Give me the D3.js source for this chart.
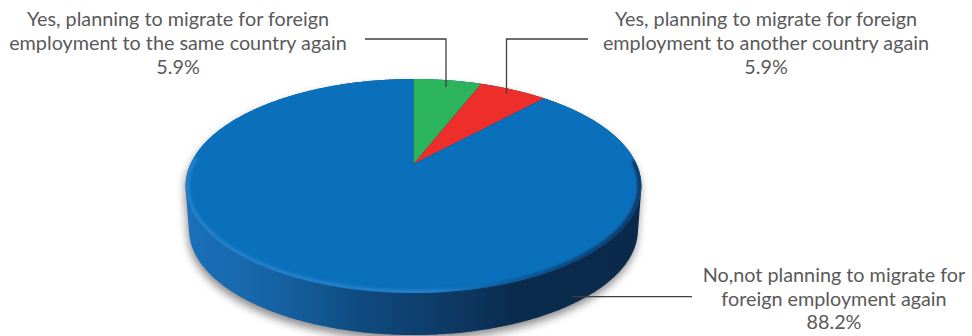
<!DOCTYPE html>
<html>
<head>
<meta charset="utf-8">
<script src="https://cdn.jsdelivr.net/npm/d3@7"></script>
<style>
  html, body { margin: 0; padding: 0; background: #fff; overflow: hidden; }
  svg { display: block; }
  text { font-family: Lato, "Open Sans", sans-serif; font-size: 19.8px; fill: #595959; text-anchor: middle; }
</style>
</head>
<body>
<svg id="chart" width="972" height="336"></svg>
<script>
// Survey shares, clockwise from twelve o'clock
const categories = ["same", "another", "no"];
const shares = [5.9, 5.9, 88.2];
const sliceColors = ["#2bb45c", "#ee2e2a", "#0b70bc"];

const labelLines = [
  ["Yes, planning to migrate for foreign", "employment to the same country again", "5.9%"],
  ["Yes, planning to migrate for foreign", "employment to another country again", "5.9%"],
  ["No,not planning to migrate for", "foreign employment again", "88.2%"]
];
const labelCentres = [[178, 26], [766, 26], [834, 282]];
const labelLeading = [24, 24, 23.6];

// Leader lines run from the label to a point on the slice
const leaderPaths = [
  [[365, 39], [446, 39], [446, 87]],
  [[588, 39], [506.5, 39], [506.5, 93.5]],
  [[692, 296.7], [572, 296.7]]
];

// Side wall shading, left to right
const wallStops = [
  [0, "#1b70ba"], [0.14, "#1868ab"], [0.27, "#135a97"], [0.38, "#0f4b80"],
  [0.5, "#0e406f"], [0.62, "#0d3660"], [0.72, "#0b2b4d"], [1, "#0b2a4b"]
];
// Bevel shading, bright on the near left and dark towards the right
const rimStops = [
  [0, "#2a84cc"], [0.55, "#2a84cc"], [0.68, "#0d5a9c"], [0.85, "#0a3a66"], [1, "#0a2b4c"]
];

// Perspective disc: the centre sits above the middle of the outline
const disc = { cx: 413.5, cy: 164, a: 223, b: 102.5, k: 0.2056 };
const wallDrop = 44, wallScale = 0.985;

function project(angle, drop = 0, scale = 1) {
  const x = Math.sin(angle), y = -Math.cos(angle), w = 1 - disc.k * y;
  return [
    disc.cx + scale * disc.a * x / w,
    disc.cy + drop + scale * disc.b * y / w
  ];
}
function arcPoints(a0, a1, drop, scale) {
  const n = Math.max(2, Math.ceil(Math.abs(a1 - a0) / 0.01));
  return d3.range(n + 1).map(i => project(a0 + (a1 - a0) * i / n, drop, scale));
}

const svg = d3.select("#chart");
const defs = svg.append("defs");
const line = d3.line();

const blur = (id, sd) => defs.append("filter").attr("id", id)
  .attr("filterUnits", "userSpaceOnUse")
  .attr("x", 0).attr("y", 0).attr("width", 972).attr("height", 400)
  .append("feGaussianBlur").attr("stdDeviation", sd);
blur("soft", 4.5);
blur("rimSoft", 1.5);

const topOutline = arcPoints(0, 2 * Math.PI);
const baseOutline = arcPoints(0, 2 * Math.PI, wallDrop, wallScale);
const hull = d3.polygonHull(topOutline.concat(baseOutline));
const hullPath = line(hull) + "Z";

const xExtent = d3.extent(topOutline, d => d[0]);
const horizontalGradient = (id, stops) => {
  const g = defs.append("linearGradient").attr("id", id)
    .attr("gradientUnits", "userSpaceOnUse")
    .attr("x1", xExtent[0]).attr("x2", xExtent[1]).attr("y1", 0).attr("y2", 0);
  stops.forEach(s => g.append("stop").attr("offset", s[0]).attr("stop-color", s[1]));
};
horizontalGradient("wall", wallStops);
horizontalGradient("rim", rimStops);

defs.append("clipPath").attr("id", "topClip")
  .append("path").attr("d", line(topOutline) + "Z");

// Ground shadow
svg.append("path").attr("d", hullPath)
  .attr("transform", "translate(-1,5)")
  .attr("fill", "#707070").attr("opacity", 0.8).attr("filter", "url(#soft)");

// Side wall
svg.append("path").attr("d", hullPath).attr("fill", "url(#wall)");

// Top face slices
const pie = d3.pie().sort(null)(shares);
svg.append("g").selectAll("path").data(pie).join("path")
  .attr("d", d => line([[disc.cx, disc.cy], ...arcPoints(d.startAngle, d.endAngle)]) + "Z")
  .attr("fill", (d, i) => sliceColors[i]);

// Bevel along the near edge of the top face
const rim = svg.append("g").attr("clip-path", "url(#topClip)");
rim.append("path")
  .attr("d", line(arcPoints(Math.PI * 0.49, Math.PI * 1.52, 0, 0.992)))
  .attr("fill", "none").attr("stroke", "url(#rim)")
  .attr("stroke-width", 3.5).attr("filter", "url(#rimSoft)");

// Leader lines
svg.append("g").selectAll("path").data(leaderPaths).join("path")
  .attr("d", line).attr("fill", "none")
  .attr("stroke", "#3f3f3f").attr("stroke-width", 1.3);

// Labels
svg.append("g").selectAll("text").data(labelLines).join("text")
  .attr("transform", (d, i) => `translate(${labelCentres[i]})`)
  .each(function (lines, i) {
    d3.select(this).selectAll("tspan").data(lines).join("tspan")
      .attr("x", 0).attr("y", (d, j) => j * labelLeading[i]).text(d => d);
  });
</script>
</body>
</html>
